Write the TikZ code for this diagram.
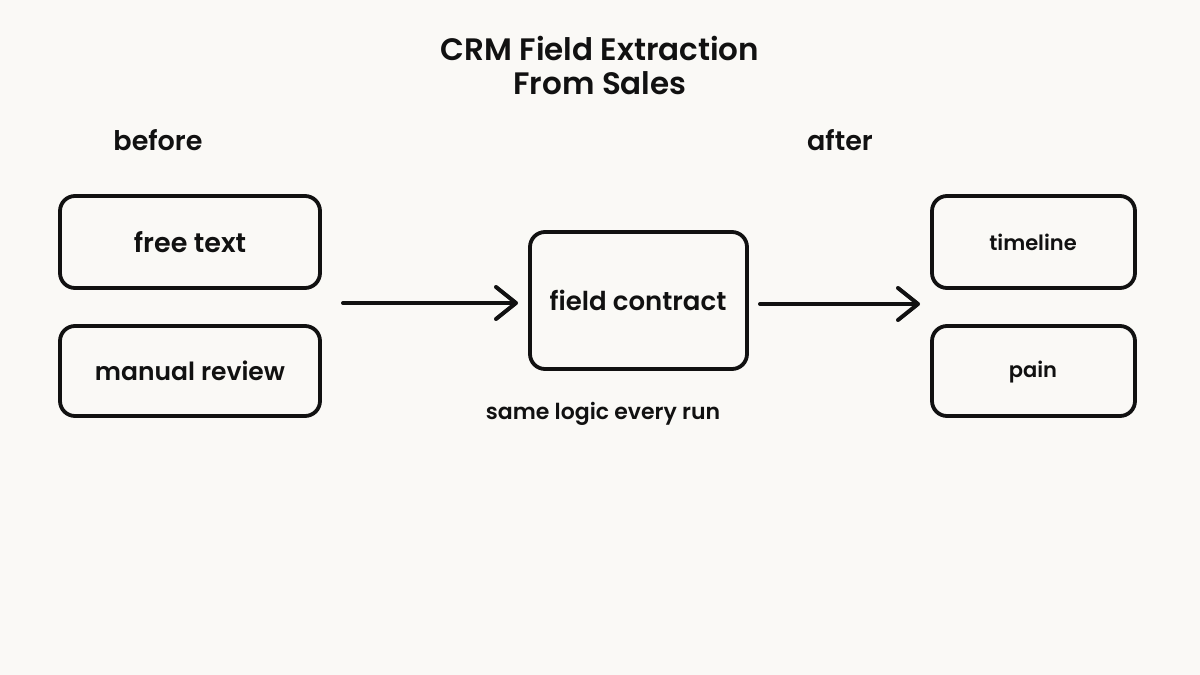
\documentclass[tikz,border=0pt]{standalone}
\usepackage{fontspec}
\setmainfont{Poppins}[UprightFont={* SemiBold}, BoldFont={* Bold}]
\usetikzlibrary{arrows.meta}
\definecolor{bg}{RGB}{250,249,246}
\definecolor{ink}{RGB}{17,17,17}
\tikzset{
  box/.style={draw=ink, line width=3.8pt, rounded corners=15pt, fill=bg},
  lbl/.style={text=ink, inner sep=0pt, anchor=center},
  conn/.style={draw=ink, line width=4pt, line cap=round, line join=round,
    -{Straight Barb[length=20pt, width=32pt, line width=4pt, round]}},
}
\begin{document}
\begin{tikzpicture}[x=1pt, y=-1pt]
\path[fill=bg] (0,0) rectangle (1200,675);
\useasboundingbox (0,0) rectangle (1200,675);
% title
\node[lbl, font=\fontsize{31}{34}\selectfont, align=center] (title) at (600,65) {CRM Field Extraction\\From Sales};
\node[lbl, font=\fontsize{27}{30}\selectfont] (before) at (158,140) {before};
\node[lbl, font=\fontsize{27}{30}\selectfont] (after) at (840,140) {after};
% boxes
\draw[box] (60,196) rectangle (320,288);
\node[lbl, font=\fontsize{27}{30}\selectfont] (free) at (190,242) {free text};
\draw[box] (60,326) rectangle (320,416);
\node[lbl, font=\fontsize{25}{30}\selectfont] (manual) at (190,371) {manual review};
\draw[box] (530,232) rectangle (747,369);
\node[lbl, font=\fontsize{26}{30}\selectfont] (fctext) at (638,300) {field contract};
\coordinate (fcw) at (530,303);
\coordinate (fce) at (747,304);
\node[lbl, font=\fontsize{22}{26}\selectfont] (same) at (603,414) {same logic every run};
\draw[box] (932,196) rectangle (1135,288);
\node[lbl, font=\fontsize{21}{24}\selectfont] (timeline) at (1033,242) {timeline};
\draw[box] (932,326) rectangle (1135,416);
\node[lbl, font=\fontsize{21}{24}\selectfont] (pain) at (1033,372) {pain};
% connectors
\coordinate (lstart) at (343,303);
\coordinate (rend) at (920,304);
\draw[conn, shorten >=12pt] (lstart) -- (fcw);
\draw[conn, shorten <=13pt] (fce) -- (rend);
\end{tikzpicture}
\end{document}
